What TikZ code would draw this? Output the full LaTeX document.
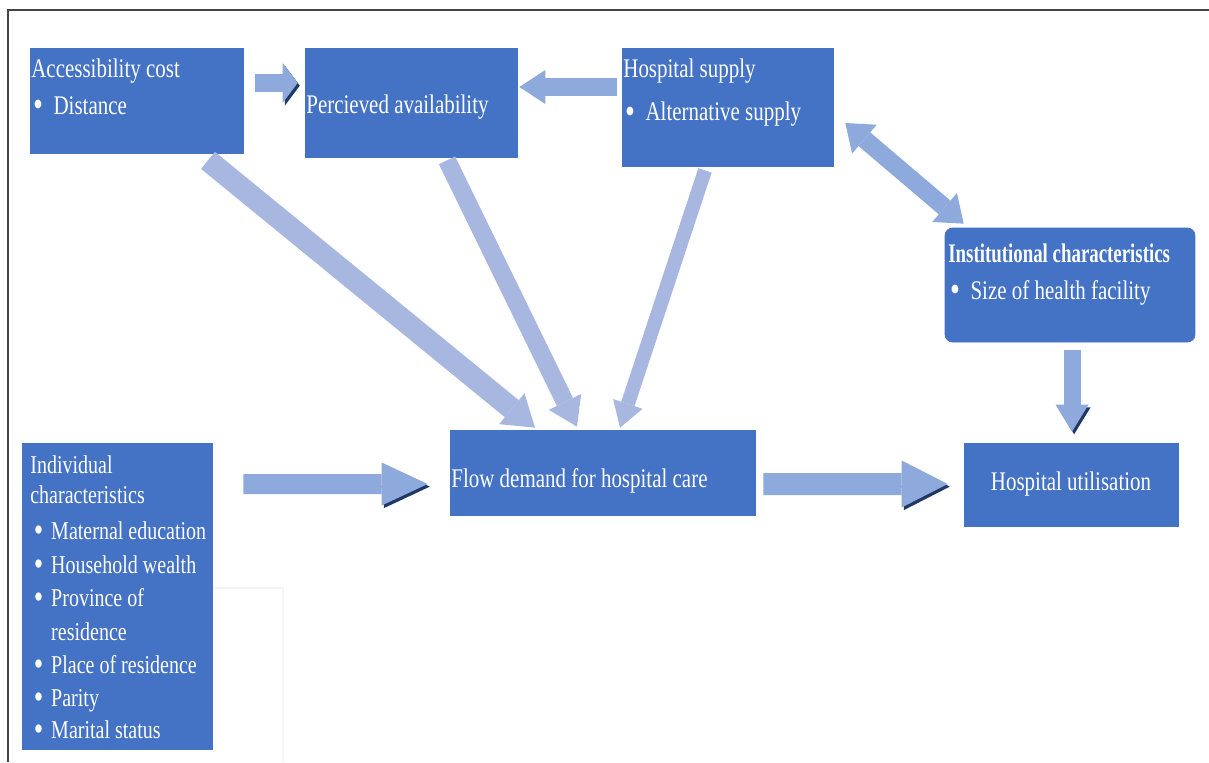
\documentclass[tikz,border=0pt]{standalone}
\usepackage{fontspec}
\usepackage{graphicx}
\setmainfont{Liberation Serif}[FakeStretch=0.78]
\usetikzlibrary{arrows.meta,calc}

\definecolor{boxblue}{HTML}{4472C4}
\definecolor{arrowblue}{HTML}{8EA9DB}
\definecolor{paleblue}{HTML}{A8B7E0}
\definecolor{navy}{HTML}{203864}
\definecolor{framegray}{HTML}{444444}

\newcommand{\bul}[1][6pt]{\raisebox{-0.08em}{\scalebox{1.35}{\textbullet}}\hspace{#1}}

\begin{document}
\begin{tikzpicture}[
  x=0.02cm, y=-0.02cm,
  every node/.style={inner sep=0pt, text=white},
  box/.style={fill=boxblue, draw=boxblue},
  txt/.style={anchor=north west, align=left, font=\fontsize{15.3}{21.5}\selectfont},
  barrow/.style args={#1/#2/#3}{line width=#1, arrowblue,
    -{Triangle[width=#2, length=#3, line width=0pt]}},
  dbarrow/.style args={#1/#2/#3}{line width=#1, arrowblue,
    {Triangle[width=#2, length=#3, line width=0pt]}-{Triangle[width=#2, length=#3, line width=0pt]}},
  pale/.style={paleblue},
  shadowed/.style={preaction={draw=navy, transform canvas={shift={(1.2pt,-1.5pt)}}}}
]
\useasboundingbox (0,0) rectangle (1209,762);

% frame
\draw[framegray, line width=1.1pt] (8,762) -- (8,10) -- (1209,10);
\draw[black!4, line width=1pt] (212,588) -| (283,762);

% boxes
\node[box, minimum width=4.26cm, minimum height=2.1cm] (acc) at (136.5,100.5) {};
\node[txt] (acc-t) at (31,58) {Accessibility cost\\\hspace*{1pt}\bul Distance};

\node[box, minimum width=4.24cm, minimum height=2.18cm] (perc) at (411,102.5) {};
\node[txt, anchor=west] (perc-t) at (306,107) {Percieved availability};

\node[box, minimum width=4.22cm, minimum height=2.36cm] (sup) at (727.5,107) {};
\node[txt, font=\fontsize{15.3}{25}\selectfont] (sup-t) at (623,58)
  {Hospital supply\\\hspace*{1pt}\bul Alternative supply};

\node[box, rounded corners=0.15cm, minimum width=5cm, minimum height=2.28cm] (inst) at (1070,285) {};
\node[txt] (inst-t) at (948,243)
  {\textbf{\scalebox{0.9}[1]{Institutional characteristics}}\\\hspace*{1pt}\bul Size of health facility};

\node[box, minimum width=3.8cm, minimum height=6.12cm] (ind) at (117,596) {};
\node[txt, font=\fontsize{14.6}{19}\selectfont] (ind-t) at (30,455)
  {Individual\\[-2pt]characteristics\\[2pt]
   \hspace*{2pt}\bul[4.5pt]Maternal education\\
   \hspace*{2pt}\bul[4.5pt]Household wealth\\
   \hspace*{2pt}\bul[4.5pt]Province of\\
   \hspace*{2pt}\hphantom{\bul[4.5pt]}residence\\
   \hspace*{2pt}\bul[4.5pt]Place of residence\\
   \hspace*{2pt}\bul[4.5pt]Parity\\[-1pt]
   \hspace*{2pt}\bul[4.5pt]Marital status};

\node[box, minimum width=6.1cm, minimum height=1.7cm] (flow) at (602.5,472.5) {};
\node[txt, anchor=west] (flow-t) at (451,481) {Flow demand for hospital care};

\node[box, minimum width=4.28cm, minimum height=1.66cm, font=\fontsize{15.3}{16}\selectfont] (util) at (1071,484.5) {Hospital utilisation};

% arrows
\draw[barrow={0.36cm/0.8cm/0.3cm}, shadowed] ($(acc.east)+(12,-17.5)$) -- ($(perc.west)+(-7,-19.5)$);
\draw[barrow={0.36cm/0.68cm/0.52cm}] ($(sup.west)+(-5,-20)$) -- ($(perc.east)+(2,-15.5)$);
\draw[dbarrow={0.36cm/0.76cm/0.5cm}] ($(sup.east)+(12,16)$) -- ($(inst.north west)+(19,-4)$);
\draw[barrow={0.44cm/0.8cm/0.6cm}, pale] ($(acc.south)+(71.5,7)$) -- ($(flow.north)+(-67.5,-2)$);
\draw[barrow={0.36cm/0.72cm/0.55cm}, pale] ($(perc.south)+(36,3)$) -- ($(flow.north)+(-25.5,-3)$);
\draw[barrow={0.28cm/0.62cm/0.5cm}, pale] ($(sup.south)+(-22.5,4)$) -- ($(flow.north)+(17.5,-2)$);
\draw[barrow={0.4cm/0.86cm/0.92cm}, shadowed] ($(ind.east)+(31,-112)$) -- ($(flow.west)+(-22,11.5)$);
\draw[barrow={0.44cm/0.94cm/0.92cm}, shadowed] ($(flow.east)+(8,11.5)$) -- ($(util.west)+(-16,-0.5)$);
\draw[barrow={0.34cm/0.66cm/0.54cm}, shadowed] ($(inst.south)+(2,8)$) -- ($(util.north)+(1,-11)$);
\end{tikzpicture}
\end{document}
